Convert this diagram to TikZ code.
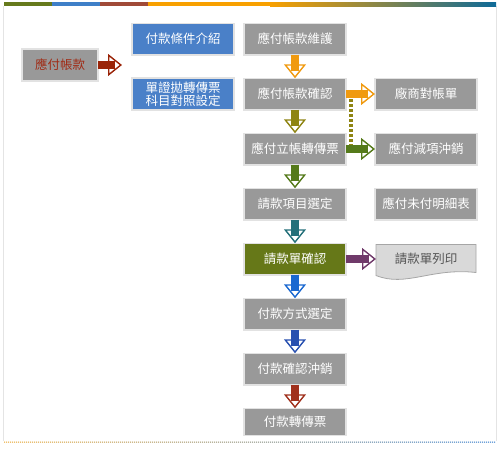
\documentclass[tikz,border=0pt]{standalone}
\usepackage{fontspec}
\newfontfamily\cjk{Noto Sans CJK TC}
\usepackage{xcolor}
\usetikzlibrary{arrows.meta,positioning,calc,backgrounds}
\definecolor{boxgray}{HTML}{999999}
\definecolor{boxline}{HTML}{E2E2E2}
\definecolor{infoblue}{HTML}{4A80C8}
\definecolor{hotolive}{HTML}{667818}
\definecolor{docgray}{HTML}{D9D9D9}
\definecolor{docline}{HTML}{A6A6A6}
\definecolor{doctext}{HTML}{555555}
\definecolor{aptext}{HTML}{A02A14}
\definecolor{arrred}{HTML}{9A2408}
\definecolor{arrorange}{HTML}{F09A10}
\definecolor{arrgold}{HTML}{8E8412}
\definecolor{arrgreen}{HTML}{557A1A}
\definecolor{arrteal}{HTML}{24707A}
\definecolor{arrblue}{HTML}{1A68D0}
\definecolor{arrnavy}{HTML}{2850B0}
\definecolor{arrbrick}{HTML}{A0301C}
\definecolor{arrplum}{HTML}{703A6A}
\definecolor{bargreen}{HTML}{667A1C}
\definecolor{barblue}{HTML}{3E7FC8}
\definecolor{barred}{HTML}{A04A38}
\definecolor{barorange}{HTML}{F8A000}
\definecolor{barolive}{HTML}{A08E30}
\definecolor{barteal}{HTML}{0E6A98}
\definecolor{frameline}{HTML}{E4E4E4}
\definecolor{lineorange}{HTML}{E8A020}
\definecolor{linegreen}{HTML}{7A9A20}
\definecolor{lineblue}{HTML}{2070C8}

\begin{document}
\begin{tikzpicture}[x=1pt,y=-1pt,font=\cjk\fontsize{12.5}{13}\selectfont,
  graybox/.style={draw=boxline,line width=1.5pt,fill=boxgray,text=white,align=center,inner sep=0pt,outer sep=0pt,minimum width=102pt,minimum height=31.5pt},
  bluebox/.style={graybox,fill=infoblue},
  olivebox/.style={graybox,fill=hotolive},
  docbox/.style={text=doctext,inner sep=0pt,outer sep=0pt,minimum width=100pt,minimum height=29pt},
  blockarrow/.style={draw=#1,line width=8pt,-{Triangle[length=14pt,width=22pt,line width=1.4pt,fill=white]},
    postaction={draw=#1,line width=8pt,-,shorten >=7pt}},
  dotlink/.style={draw=arrgold,line width=4pt,dash pattern=on 3pt off 2pt},
  node distance=23.5pt and 29pt]
  \useasboundingbox (0,0) rectangle (500,450);

  % frame and colour bars
  \draw[frameline,line width=1pt] (3.5,6) -- (3.5,441) (496.5,6) -- (496.5,441);
  \fill[bargreen] (4,2) rectangle (52,6);
  \fill[barblue] (52,2) rectangle (100,6);
  \fill[barred] (100,2) rectangle (148,6);
  \fill[barorange] (148,2) rectangle (270,6);
  \shade[left color=barorange,middle color=barolive,right color=barteal] (270,2) rectangle (496,6);
  \begin{scope}
    \clip \foreach \i in {0,...,245} {(4+2*\i,441.5) rectangle ++(1,1.2)};
    \shade[left color=lineorange,middle color=linegreen,right color=lineblue] (4,441) rectangle (496,443);
  \end{scope}

  % main column
  \node[graybox] (maint) at (295,39) {應付帳款維護};
  \node[graybox,below=of maint] (confirm) {應付帳款確認};
  \node[graybox,below=of confirm] (post) {應付立帳轉傳票};
  \node[graybox,below=of post] (select) {請款項目選定};
  \node[olivebox,below=of select] (billok) {請款單確認};
  \node[graybox,below=of billok] (paymode) {付款方式選定};
  \node[graybox,below=of paymode] (payok) {付款確認沖銷};
  \node[graybox,below=of payok,minimum height=27pt] (paypost) {付款轉傳票};

  % left side
  \node[bluebox,left=10pt of maint] (terms) {付款條件介紹};
  \node[bluebox,left=10pt of confirm,minimum height=32pt] (voucher) {單證拋轉傳票\\科目對照設定};
  \node[graybox,minimum width=76pt,minimum height=32pt,text=aptext] (ap) at (60,65) {應付帳款};
  \coordinate[right=24pt of ap] (apend);

  % right side
  \node[graybox,right=of confirm] (stmt) {廠商對帳單};
  \node[graybox,right=of post] (deduct) {應付減項沖銷};
  \node[graybox,right=of select] (unpaid) {應付未付明細表};
  \node[docbox,right=30pt of billok] (print) {請款單列印};
  \begin{scope}[on background layer]
    \filldraw[fill=docgray,draw=docline,line width=0.8pt]
      (print.north west) -- (print.north east) -- ([yshift=1pt]print.south east)
      .. controls ($(print.south east)+(-45,-6)$) and ($(print.south west)+(30,14)$) ..
      ($(print.south west)+(0,2)$) -- cycle;
  \end{scope}

  \draw[dotlink] ([xshift=5pt]confirm.east) -- ([xshift=5pt]post.east);
  \draw[blockarrow=arrred] (ap) -- (apend);
  \draw[blockarrow=arrorange] (maint) -- (confirm);
  \draw[blockarrow=arrgold] (confirm) -- (post);
  \draw[blockarrow=arrgreen] (post) -- (select);
  \draw[blockarrow=arrteal] (select) -- (billok);
  \draw[blockarrow=arrblue] (billok) -- (paymode);
  \draw[blockarrow=arrnavy] (paymode) -- (payok);
  \draw[blockarrow=arrbrick] (payok) -- (paypost);
  \draw[blockarrow=arrorange] (confirm) -- (stmt);
  \draw[blockarrow=arrgreen] (post) -- (deduct);
  \draw[blockarrow=arrplum] (billok) -- (print);
\end{tikzpicture}
\end{document}
